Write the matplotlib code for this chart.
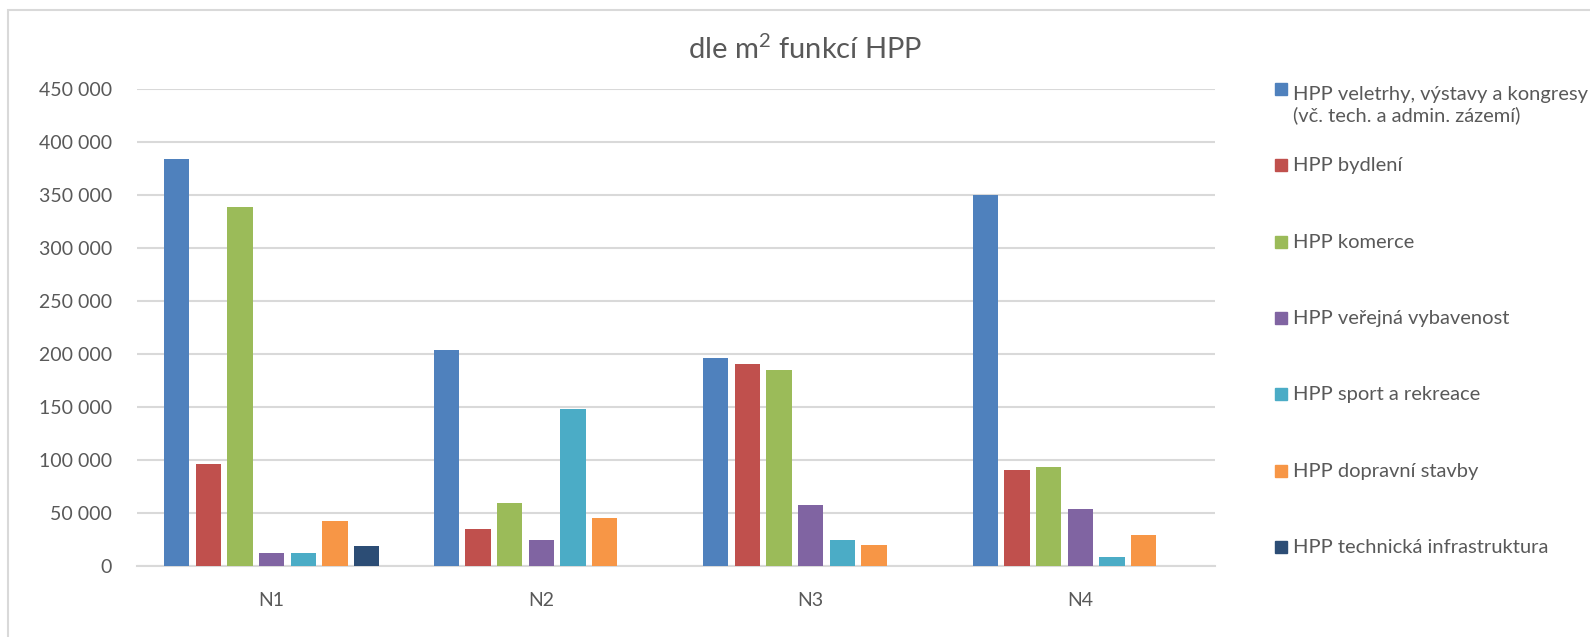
"""
Bar chart: HPP floor area by function (m2) for variants N1-N4
"""

import matplotlib as mpl
import matplotlib.pyplot as plt
import numpy as np
from matplotlib.patches import Rectangle
from matplotlib.ticker import FuncFormatter

mpl.rcParams["font.family"] = ["Lato", "DejaVu Sans"]
mpl.rcParams["mathtext.fontset"] = "custom"
mpl.rcParams["mathtext.rm"] = "Lato"

TEXT_COLOR = "#595959"
GRID_COLOR = "#D9D9D9"

VARIANTS = ["N1", "N2", "N3", "N4"]
SERIES = [
    "HPP veletrhy, výstavy a kongresy\n(vč. tech. a admin. zázemí)",
    "HPP bydlení",
    "HPP komerce",
    "HPP veřejná vybavenost",
    "HPP sport a rekreace",
    "HPP dopravní stavby",
    "HPP technická infrastruktura",
]
COLORS = ["#4F81BD", "#C0504D", "#9BBB59", "#8064A2", "#4BACC6", "#F79646", "#2C4D75"]

veletrhy = [383500, 203500, 196000, 350000]
bydleni = [96500, 35000, 191000, 91000]
komerce = [339000, 59500, 184500, 93500]
verejna = [12500, 25000, 58000, 53500]
sport = [12000, 148500, 24500, 8500]
dopravni = [42000, 45500, 19500, 29000]
technicka = [19000, 0, 0, 0]
values = [veletrhy, bydleni, komerce, verejna, sport, dopravni, technicka]

W, H = 1590, 637
fig = plt.figure(figsize=(W / 100, H / 100), dpi=100)
ax = fig.add_axes([137 / W, 1 - 566 / H, (1215 - 137) / W, (566 - 89) / H])

x = np.arange(len(VARIANTS))
pitch = 0.1176
width = 0.094
for i, (vals, color) in enumerate(zip(values, COLORS)):
    ax.bar(x + (i - 3) * pitch, vals, width=width, color=color, linewidth=0, zorder=3)

ax.set_xlim(-0.5, 3.5)
ax.set_ylim(0, 450000)
ax.set_yticks(np.arange(0, 450001, 50000))
ax.yaxis.set_major_formatter(FuncFormatter(lambda v, _: f"{int(v):,}".replace(",", " ")))
ax.set_xticks(x)
ax.set_xticklabels(VARIANTS)
ax.grid(axis="y", color=GRID_COLOR, linewidth=1.5, zorder=0)
for s in ["top", "right", "left"]:
    ax.spines[s].set_visible(False)
ax.spines["bottom"].set_color(GRID_COLOR)
ax.spines["bottom"].set_linewidth(1.5)
ax.tick_params(axis="both", length=0, labelsize=14, colors=TEXT_COLOR)
ax.tick_params(axis="y", pad=18)
ax.tick_params(axis="x", pad=19)

fig.text(805 / W, 1 - 49 / H, "dle m$^2$ funkcí HPP", ha="center", va="center",
         fontsize=21, color=TEXT_COLOR)

# legend rows, one slot per series; the square sits on the first text line
for k, (name, color) in enumerate(zip(SERIES, COLORS)):
    base = 95 + k * 76.3
    fig.patches.append(Rectangle((1275 / W, 1 - base / H), 12 / W, 12 / H,
                                 transform=fig.transFigure, color=color))
    last = base + name.count("\n") * 26
    fig.text(1293 / W, 1 - last / H, name, ha="left", va="baseline",
             fontsize=14.5, color=TEXT_COLOR, linespacing=1.24)

# chart area frame
fig.patches.append(Rectangle((8 / W, -0.05), 1.1, 1 - 10 / H + 0.05, fill=False,
                             edgecolor=GRID_COLOR, linewidth=1.5,
                             transform=fig.transFigure))

plt.savefig("out.png", dpi=100)
